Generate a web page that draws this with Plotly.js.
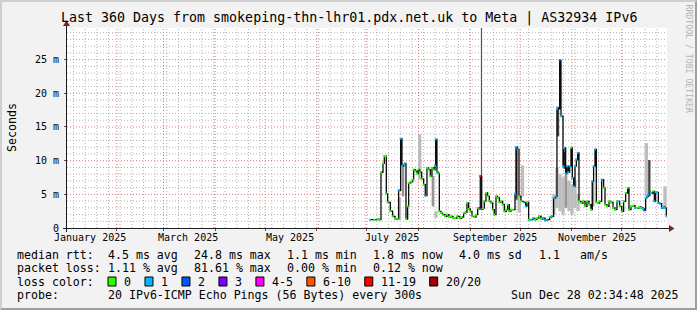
<!DOCTYPE html>
<html><head><meta charset="utf-8">
<script src="https://cdn.plot.ly/plotly-3.0.1.min.js"></script>
<style>html,body{margin:0;padding:0;background:#f2f2f2;overflow:hidden}#chart{width:697px;height:310px}</style>
</head><body><div id="chart"></div>
<script>
// ---------------- data ----------------
const rangeStart = '2025-01-02 02:34:48';
const rangeEnd = '2025-12-28 02:34:48';

const medianDates = [
'2025-07-03 02:00','2025-07-05 12:00','2025-07-07 12:00','2025-07-08 12:00','2025-07-09 12:00','2025-07-10 17:00','2025-07-11 12:00','2025-07-12 07:00','2025-07-12 17:00','2025-07-13 12:00',
'2025-07-15 02:00','2025-07-16 12:00','2025-07-17 22:00','2025-07-19 12:00','2025-07-20 02:00','2025-07-21 07:00','2025-07-22 02:00','2025-07-23 02:00','2025-07-23 22:00','2025-07-24 12:00',
'2025-07-25 12:00','2025-07-26 02:00','2025-07-27 12:00','2025-07-28 12:00','2025-07-29 02:00','2025-07-30 02:00','2025-07-31 02:00','2025-07-31 22:00','2025-08-01 17:00','2025-08-02 22:00',
'2025-08-04 02:00','2025-08-05 02:00','2025-08-06 02:00','2025-08-07 02:00','2025-08-08 02:00','2025-08-09 02:00','2025-08-10 02:00','2025-08-10 22:00','2025-08-11 07:00','2025-08-12 02:00',
'2025-08-12 22:00','2025-08-13 12:00','2025-08-14 12:00','2025-08-15 12:00','2025-08-16 22:00','2025-08-18 02:00','2025-08-19 07:00','2025-08-20 12:00','2025-08-21 17:00','2025-08-22 22:00',
'2025-08-24 02:00','2025-08-25 17:00','2025-08-26 22:00','2025-08-28 02:00','2025-08-29 02:00','2025-08-30 02:00','2025-08-31 02:00','2025-09-01 02:00','2025-09-02 02:00','2025-09-03 12:00',
'2025-09-04 12:00','2025-09-05 12:00','2025-09-06 17:00','2025-09-07 02:00','2025-09-07 22:00','2025-09-08 17:00','2025-09-09 12:00','2025-09-10 12:00','2025-09-11 12:00','2025-09-12 12:00',
'2025-09-13 12:00','2025-09-14 12:00','2025-09-15 12:00','2025-09-16 12:00','2025-09-17 12:00','2025-09-18 12:00','2025-09-19 12:00','2025-09-20 12:00','2025-09-21 12:00','2025-09-22 17:00',
'2025-09-23 12:00','2025-09-24 12:00','2025-09-25 12:00','2025-09-26 17:00','2025-09-27 22:00','2025-09-28 17:00','2025-09-29 12:00','2025-09-30 07:00','2025-10-01 12:00','2025-10-03 02:00',
'2025-10-04 07:00','2025-10-05 02:00','2025-10-06 02:00','2025-10-07 12:00','2025-10-08 17:00','2025-10-09 22:00','2025-10-11 02:00','2025-10-12 07:00','2025-10-13 12:00','2025-10-14 17:00',
'2025-10-15 22:00','2025-10-17 02:00','2025-10-18 17:00','2025-10-19 22:00','2025-10-21 02:00','2025-10-22 07:00','2025-10-23 02:00','2025-10-24 17:00','2025-10-25 12:00','2025-10-26 17:00',
'2025-10-27 07:00','2025-10-28 07:00','2025-10-29 02:00','2025-10-29 22:00','2025-10-30 17:00','2025-10-31 12:00','2025-11-01 07:00','2025-11-02 02:00','2025-11-02 22:00','2025-11-03 17:00',
'2025-11-04 12:00','2025-11-05 07:00','2025-11-06 12:00','2025-11-07 17:00','2025-11-08 22:00','2025-11-10 02:00','2025-11-11 07:00','2025-11-12 12:00','2025-11-13 07:00','2025-11-14 02:00',
'2025-11-14 22:00','2025-11-15 17:00','2025-11-16 12:00','2025-11-17 17:00','2025-11-18 22:00','2025-11-20 02:00','2025-11-20 22:00','2025-11-22 02:00','2025-11-23 07:00','2025-11-24 12:00',
'2025-11-25 17:00','2025-11-26 22:00','2025-11-28 02:00','2025-11-28 22:00','2025-11-29 17:00','2025-11-30 22:00','2025-12-02 02:00','2025-12-03 07:00','2025-12-04 12:00','2025-12-05 07:00',
'2025-12-06 12:00','2025-12-07 17:00','2025-12-08 22:00','2025-12-10 02:00','2025-12-11 07:00','2025-12-12 12:00','2025-12-13 17:00','2025-12-14 12:00','2025-12-15 07:00','2025-12-16 02:00',
'2025-12-16 22:00','2025-12-17 17:00','2025-12-18 12:00','2025-12-19 17:00','2025-12-20 12:00','2025-12-21 07:00','2025-12-22 02:00','2025-12-22 22:00','2025-12-23 17:00','2025-12-24 22:00',
'2025-12-25 17:00','2025-12-26 22:00','2025-12-27 17:00'
];
// median round trip time, milliseconds
const medianMs = [
1.23,1.23,1.30,1.25,8.28,9.60,10.67,10.67,5.10,3.81,
2.50,1.73,1.33,1.33,5.60,13.26,9.18,9.43,9.58,1.33,
3.22,6.69,6.89,7.19,8.68,8.43,8.09,8.68,8.28,7.29,
6.44,4.81,8.93,8.68,7.69,8.93,8.68,9.28,13.16,8.28,
8.09,2.47,2.22,1.98,1.73,1.98,1.63,1.73,1.43,1.48,
1.73,1.43,1.63,2.22,2.32,3.71,2.82,2.47,1.73,1.63,
1.98,2.97,2.82,7.69,2.82,2.97,4.00,5.20,4.71,3.96,
3.71,2.72,1.98,4.71,4.46,3.81,3.96,3.47,2.47,2.72,
3.47,2.47,2.72,2.72,5.10,12.01,11.66,4.71,3.96,3.81,
3.22,3.81,1.23,1.23,1.43,1.23,1.48,1.73,1.33,1.48,
1.13,1.23,1.63,1.73,4.46,4.71,17.70,24.90,16.60,9.18,
11.91,8.09,9.18,8.28,9.18,11.91,7.44,6.20,9.18,10.17,
11.17,3.96,3.71,3.96,3.22,3.96,3.47,2.72,6.94,9.18,
11.66,3.81,3.71,3.96,7.19,5.95,3.47,3.22,3.96,3.81,
2.97,2.72,3.96,3.96,3.22,2.47,3.96,5.20,5.95,2.72,
3.22,3.32,2.97,2.97,3.12,2.97,2.82,2.62,4.46,4.71,
4.95,5.30,5.20,5.45,3.96,5.30,5.30,3.71,3.62,2.97,
3.12,2.97,1.73
];
// packet loss bucket for each median point
const lossBucket = [
'1','0','0','0','0','0','0','0','0','0',
'0','0','0','0','1','1','1','1','1','0',
'0','0','0','0','0','0','0','0','0','0',
'0','1','0','0','0','0','0','1','1','1',
'0','0','0','0','0','0','0','0','0','0',
'0','0','0','0','0','0','0','0','0','0',
'0','0','4-5','11-19','2','0','0','0','0','0',
'0','0','0','0','0','0','0','0','0','0',
'0','0','0','0','1','1','1','0','0','1',
'1','0','0','1','1','0','0','0','0','1',
'1','1','0','1','1','1','1','2','1','1',
'1','1','1','1','1','0','1','1','1','1',
'1','0','0','0','0','0','0','0','1','1',
'1','0','0','0','1','0','0','0','0','0',
'0','0','0','1','0','0','0','0','0','0',
'0','0','1','0','0','0','1','2','1','1',
'1','2','1','0','1','1','1','1','1','1',
'1','1','1'
];

// smoke (spread of the 20 pings), milliseconds
const smokeDates = ['2025-07-20 14:00','2025-07-22 17:00','2025-08-01 17:00','2025-08-09 17:00','2025-08-11 12:00','2025-09-07 19:00','2025-09-28 19:00','2025-09-30 12:00','2025-10-02 10:00','2025-10-21 07:00','2025-10-23 02:00','2025-10-23 17:00','2025-10-24 22:00','2025-10-26 17:00','2025-10-27 12:00','2025-10-28 12:00','2025-10-30 07:00','2025-11-01 02:00','2025-11-02 22:00','2025-11-04 17:00','2025-11-13 17:00','2025-12-15 17:00','2025-12-17 12:00','2025-12-26 22:00'];
const smokeLoMs = [1.2,4.7,7.2,3.2,1.5,2.8,4.2,2.3,4.7,2.0,3.0,13.6,2.5,2.0,8.8,3.0,2.5,2.0,3.0,2.5,3.2,4.7,4.7,3.2];
const smokeHiMs = [4.6,9.4,13.9,7.7,2.5,29.7,12.1,5.0,9.3,5.0,9.0,18.0,8.0,7.5,11.3,8.0,7.0,6.5,7.0,5.0,7.0,12.6,10.1,6.2];
const smokeShade = ['light','mid','light','mid','light','spike','dark','light','light','light','light','dark','light','light','dark','mid','light','light','light','light','mid','light','dark','light'];

const monthLabelDates = ['2025-01-16','2025-03-16','2025-05-16','2025-07-16','2025-09-16','2025-11-16'];
const monthLabelText = ['January 2025','March 2025','May 2025','July 2025','September 2025','November 2025'];
const yTickVals = [0,5,10,15,20,25];
const yTickText = ['0','5 m','10 m','15 m','20 m','25 m'];

const lossLabels = ['0','1','2','3','4-5','6-10','11-19','20/20'];
const rttStats = ['4.5 ms avg','24.8 ms max','1.1 ms min','1.8 ms now','4.0 ms sd','1.1','am/s'];
const lossStats = ['1.11 % avg','81.61 % max','0.00 % min','0.12 % now'];

// ---------------- styles ----------------
const lossColor = {'0':'#26ff00','1':'#00b8ff','2':'#0059ff','3':'#7e00ff','4-5':'#ff00ff','6-10':'#ff5500','11-19':'#ff0000','20/20':'#a10000'};
const shadeStyle = {light:{c:'#bdbdbd',w:2.0}, mid:{c:'#969696',w:1.6}, dark:{c:'#454545',w:1.4}, spike:{c:'#555555',w:0.7}};
const MONO = 'DejaVu Sans Mono';
const DAY = 86400000;

// pixel -> paper helpers
const X0=67, XS=600, Y0=228, YS=200;
const PX = v => (v - X0)/XS, PY = v => (Y0 - v)/YS;

// ---------------- grid (drawn as shapes under the data) ----------------
const shapes = [];
const gridMaj = '#e07a7a', gridMin = '#b4b4b4';
function gline(xr, yr, x0, y0, x1, y1, c){
  return {type:'line', xref:xr, yref:yr, x0, y0, x1, y1, layer:'below', line:{color:c, width:1, dash:'1px,2px'}};
}
for (let t = Date.UTC(2025,0,6); t < Date.UTC(2025,11,29); t += 7*DAY) {
  shapes.push(gline('x','paper', t, 0, t, 1, gridMin));
}
for (let m = 1; m < 12; m++) {
  const t = Date.UTC(2025,m,1);
  shapes.push(gline('x','paper', t, 0, t, 1, gridMaj));
}
for (let v = 1; v < 30; v++) {
  shapes.push(gline('paper','y', 0, v, 1, v, v % 5 === 0 ? gridMaj : gridMin));
}

// ---------------- traces ----------------
const traces = [];
Object.keys(shadeStyle).forEach(sh => {
  const idx = smokeShade.map((s,i)=>s===sh?i:-1).filter(i=>i>=0);
  if(!idx.length) return;
  traces.push({type:'bar', x: idx.map(i=>smokeDates[i]), base: idx.map(i=>smokeLoMs[i]),
    y: idx.map(i=>smokeHiMs[i]-smokeLoMs[i]), width: shadeStyle[sh].w*DAY,
    marker:{color:shadeStyle[sh].c, line:{width:0}}, hoverinfo:'skip'});
});
traces.push({type:'scatter', mode:'lines+markers', x: medianDates, y: medianMs,
  line:{color:'#0c0c0c', width:1.3, shape:'hv'},
  marker:{symbol:'square', size:2, color: lossBucket.map(b=>lossColor[b]), line:{width:0}},
  hoverinfo:'skip'});

// ---------------- annotations ----------------
function txt(text, x, y, o){
  return Object.assign({text, x:PX(x), y:PY(y), xref:'paper', yref:'paper', showarrow:false,
    xanchor:'left', yanchor:'middle', borderpad:0, font:{family:MONO, size:11.6, color:'#000'}}, o||{});
}
const ann = [];
ann.push(txt('Last 360 Days from smokeping-thn-lhr01.pdx.net.uk to Meta | AS32934 IPv6', 348.5, 18, {xanchor:'center', font:{family:MONO,size:13.3,color:'#000'}}));
ann.push(txt('Seconds', 12, 128, {xanchor:'center', textangle:-90, font:{family:MONO,size:11.6,color:'#000'}}));
ann.push(txt('RRDTOOL / TOBI OETIKER', 688.5, 59, {xanchor:'center', textangle:90, font:{family:MONO,size:8.2,color:'#b4b4b4'}}));
monthLabelDates.forEach((d,i)=>ann.push({text:monthLabelText[i], x:d, xref:'x', y:PY(237), yref:'paper', showarrow:false, xanchor:'center', yanchor:'middle', borderpad:0, font:{family:MONO,size:10,color:'#000'}}));
ann.push(txt('median rtt:', 16, 255));
[107,193,286,372,458,538,579].forEach((x,i)=>ann.push(txt(rttStats[i], x, 255)));
ann.push(txt('packet loss:', 16, 268));
[107,193,286,372].forEach((x,i)=>ann.push(txt(lossStats[i], x, 268)));
ann.push(txt('loss color:', 16, 281.5));
ann.push(txt('probe:', 16, 295));
ann.push(txt('20 IPv6-ICMP Echo Pings (56 Bytes) every 300s', 107, 295));
ann.push(txt('Sun Dec 28 02:34:48 2025', 680, 295, {xanchor:'right'}));

// ---------------- frame, axes, legend shapes ----------------
function path(pts){ return 'M' + pts.map(p=>PX(p[0])+','+PY(p[1])).join(' L') + ' Z'; }
function line(x1,y1,x2,y2,c,w){ return {type:'line', xref:'paper', yref:'paper', x0:PX(x1), y0:PY(y1), x1:PX(x2), y1:PY(y2), line:{color:c,width:w}, layer:'above'}; }
shapes.push({type:'path', xref:'paper', yref:'paper', path:path([[0,310],[2,308],[2,2],[695,2],[697,0],[0,0]]), fillcolor:'#cfcfcf', line:{width:0}});
shapes.push({type:'path', xref:'paper', yref:'paper', path:path([[2,308],[695,308],[695,2],[697,0],[697,310],[0,310]]), fillcolor:'#9e9e9e', line:{width:0}});
shapes.push(line(63,228.5,671,228.5,'#1f1f1f',1));
shapes.push(line(66.5,232,66.5,24,'#1f1f1f',1));
shapes.push({type:'path', xref:'paper', yref:'paper', path:path([[669,225],[669,232],[674.5,228.5]]), fillcolor:'#801f1f', line:{width:0}});
shapes.push({type:'path', xref:'paper', yref:'paper', path:path([[63,26],[70,26],[66.5,20.5]]), fillcolor:'#801f1f', line:{width:0}});
let lx = 108;
lossLabels.forEach(lb=>{
  shapes.push({type:'rect', xref:'paper', yref:'paper', x0:PX(lx), x1:PX(lx+8), y0:PY(277), y1:PY(286), fillcolor:lossColor[lb], line:{color:'#000',width:1}});
  ann.push(txt(lb, lx+15, 281.5));
  lx = lx + 15 + lb.length*6.98 + 15;
});

const layout = {
  width:697, height:310, margin:{l:67, r:30, t:28, b:82, pad:0},
  paper_bgcolor:'#f2f2f2', plot_bgcolor:'#ffffff', showlegend:false, barmode:'overlay',
  font:{family:MONO, size:10, color:'#000'},
  xaxis:{type:'date', range:[rangeStart, rangeEnd], tick0:'2025-01-01', dtick:'M1', showticklabels:false,
    showgrid:false, ticks:'outside', ticklen:2, tickcolor:'#8c3c3c', zeroline:false, showline:false, fixedrange:true},
  yaxis:{range:[0,29.7], tickmode:'array', tickvals:yTickVals, ticktext:yTickText, showgrid:false,
    ticks:'outside', ticklen:2, tickcolor:'#8c3c3c', zeroline:false, showline:false,
    tickfont:{family:MONO, size:10, color:'#000'}, ticklabelstandoff:3, fixedrange:true},
  annotations: ann, shapes: shapes
};
Plotly.newPlot('chart', traces, layout, {staticPlot:true, displayModeBar:false});
</script></body></html>
